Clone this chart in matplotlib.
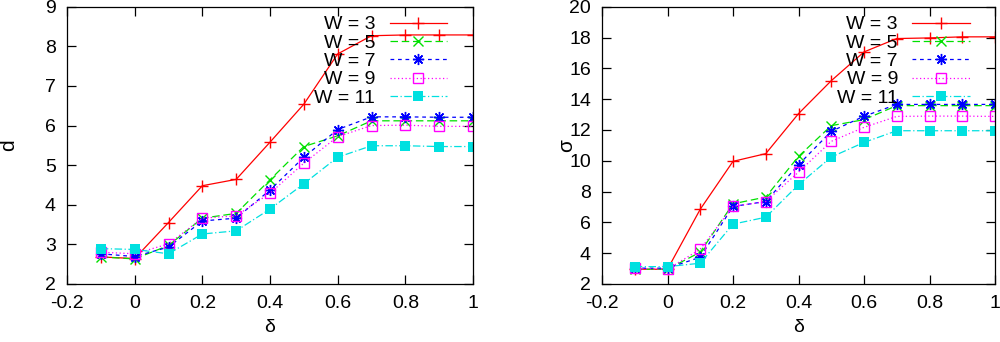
import matplotlib
matplotlib.use("Agg")
import matplotlib.pyplot as plt

plt.rcParams['font.family'] = ['Liberation Sans', 'DejaVu Sans']

# delta waarden (x-as)
delta = [-0.1, 0.0, 0.1, 0.2, 0.3, 0.4, 0.5, 0.6, 0.7, 0.8, 0.9, 1.0]

# linker paneel: d
d_w3 = [2.68, 2.64, 3.55, 4.48, 4.64, 5.58, 6.54, 7.81, 8.27, 8.29, 8.29, 8.29]
d_w5 = [2.68, 2.63, 2.97, 3.66, 3.78, 4.63, 5.47, 5.74, 6.12, 6.12, 6.12, 6.12]
d_w7 = [2.76, 2.69, 2.93, 3.59, 3.66, 4.37, 5.20, 5.90, 6.22, 6.22, 6.21, 6.21]
d_w9 = [2.80, 2.76, 3.01, 3.66, 3.72, 4.29, 5.05, 5.72, 6.00, 6.01, 5.98, 5.98]
d_w11 = [2.89, 2.87, 2.76, 3.26, 3.34, 3.89, 4.53, 5.20, 5.49, 5.49, 5.47, 5.47]

# rechter paneel: sigma
s_w3 = [2.95, 2.95, 6.85, 9.96, 10.46, 13.06, 15.20, 17.07, 17.94, 17.98, 18.05, 18.05]
s_w5 = [2.95, 2.95, 4.06, 7.20, 7.64, 10.28, 12.28, 12.67, 13.58, 13.58, 13.58, 13.58]
s_w7 = [3.02, 3.02, 3.73, 7.03, 7.35, 9.74, 11.91, 12.89, 13.66, 13.66, 13.66, 13.66]
s_w9 = [3.00, 2.95, 4.25, 7.03, 7.35, 9.26, 11.26, 12.17, 12.88, 12.90, 12.90, 12.88]
s_w11 = [3.12, 3.12, 3.34, 5.88, 6.33, 8.44, 10.24, 11.19, 11.95, 11.95, 11.95, 11.95]

labels = ['W = 3', 'W = 5', 'W = 7', 'W = 9', 'W = 11']
xticks = [-0.2, 0, 0.2, 0.4, 0.6, 0.8, 1]
xticklabels = ['-0.2', '0', '0.2', '0.4', '0.6', '0.8', '1']

# gnuplot-achtige stijlen
stijlen = [
    dict(color='#ff0000', ls='-', marker='+', ms=8, mew=1.0),
    dict(color='#00e000', ls=(0, (6, 3)), marker='x', ms=7, mew=1.0),
    dict(color='#0000ff', ls=(0, (3, 3)), marker=(8, 2, 0), ms=8, mew=1.0),
    dict(color='#ff00ff', ls=(0, (1, 2)), marker='s', ms=6.5, mew=1.0, mfc='none'),
    dict(color='#00e0e0', ls=(0, (6, 2, 1, 2)), marker='s', ms=6.5, mew=0, mfc='#00e0e0'),
]

fig = plt.figure(figsize=(10, 3.42), dpi=100)
ax1 = fig.add_axes([0.067, 0.170, 0.406, 0.810])
ax2 = fig.add_axes([0.602, 0.170, 0.393, 0.810])


def paneel(ax, reeksen, ylim, yticks, ylabel, ylabel_x):
    for y, lab, st in zip(reeksen, labels, stijlen):
        ax.plot(delta, y, label=lab, lw=0.9, **st)
    ax.set_xlim(-0.2, 1)
    ax.set_ylim(*ylim)
    ax.set_xticks(xticks)
    ax.set_xticklabels(xticklabels)
    ax.set_yticks(yticks)
    ax.tick_params(direction='in', top=True, right=True, length=6.5,
                   width=0.9, labelsize=14, pad=8)
    ax.tick_params(axis='y', pad=8)
    for sp in ax.spines.values():
        sp.set_linewidth(0.9)
    ax.set_xlabel('δ', fontsize=14)
    ax.xaxis.set_label_coords(0.5, -0.128)
    ax.set_ylabel(ylabel, fontsize=15, va='center', ha='center')
    ax.yaxis.set_label_coords(ylabel_x, 0.5)
    ax.legend(loc='upper right', bbox_to_anchor=(0.936, 0.968), frameon=False,
              markerfirst=False, fontsize=14, handlelength=2.95,
              handletextpad=0.75, labelspacing=0.04, borderpad=0,
              borderaxespad=0)


paneel(ax1, [d_w3, d_w5, d_w7, d_w9, d_w11], (2, 9), range(2, 10), 'd', -0.145)
paneel(ax2, [s_w3, s_w5, s_w7, s_w9, s_w11], (2, 20), range(2, 21, 2), 'σ', -0.09)

fig.savefig('out.png', dpi=100)
